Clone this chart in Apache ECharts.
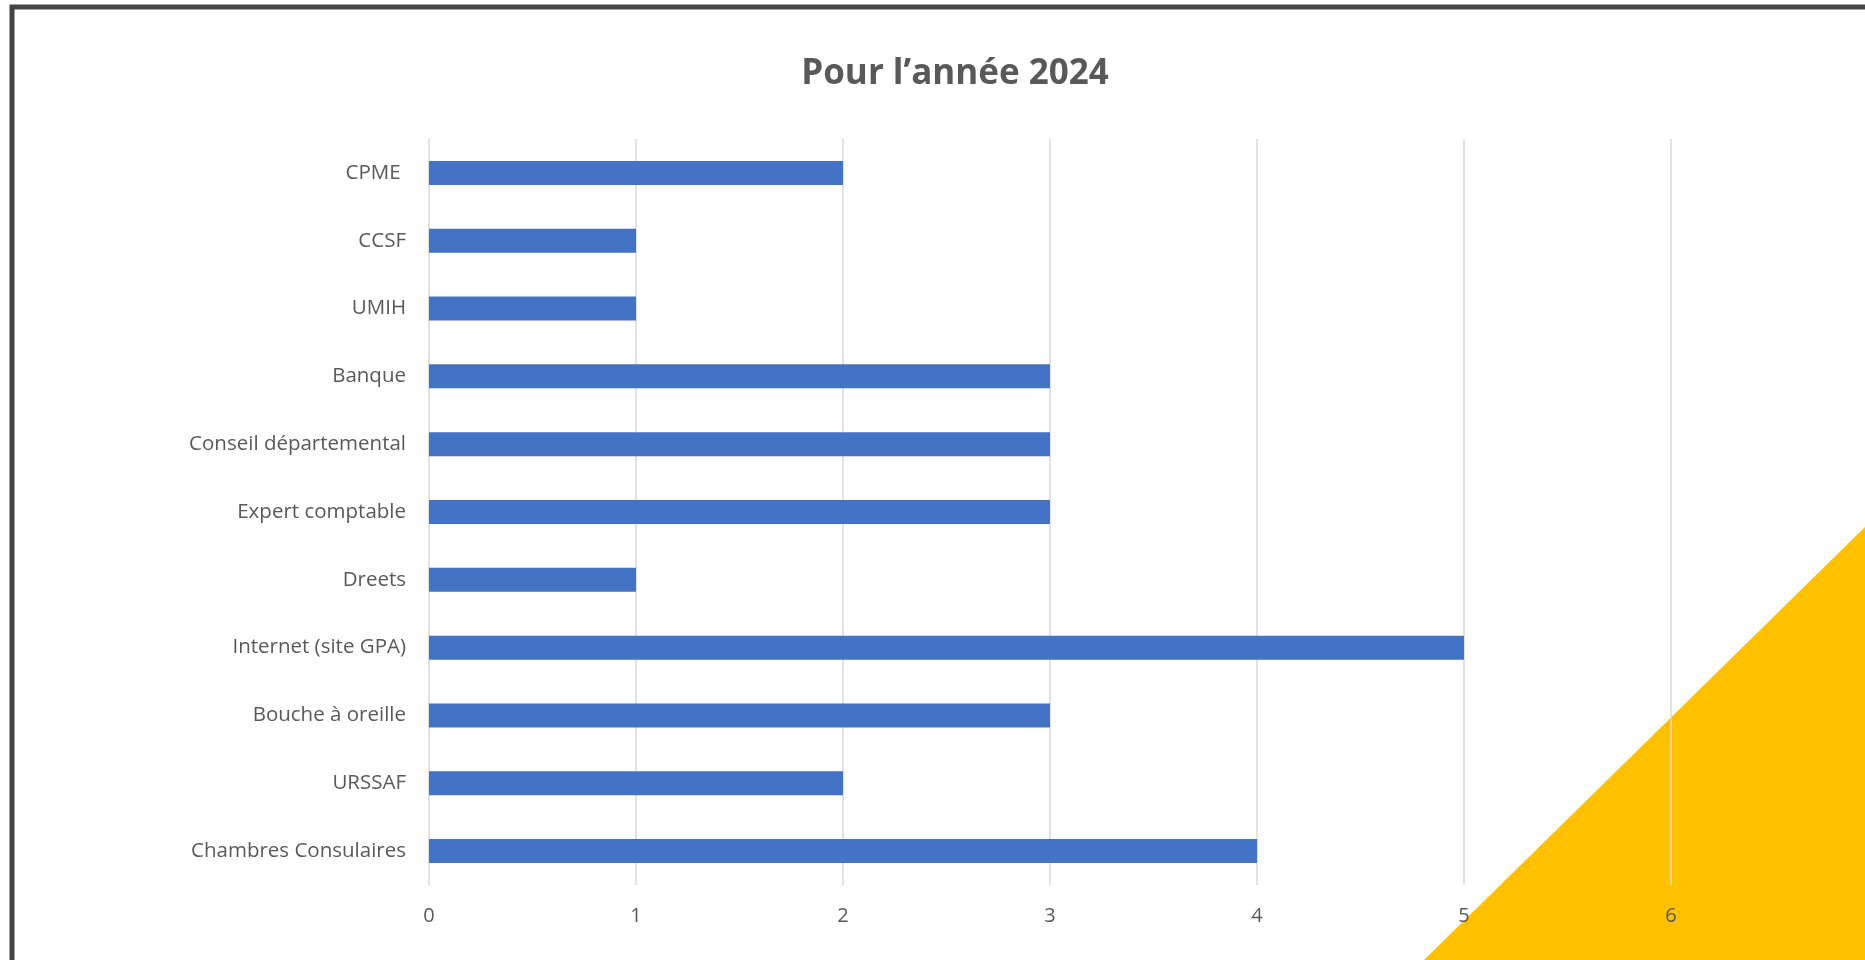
<!DOCTYPE html>
<html>
<head>
<meta charset="utf-8">
<script src="https://cdn.jsdelivr.net/npm/echarts@6/dist/echarts.min.js"></script>
<style>
html,body{margin:0;padding:0;background:#fff;overflow:hidden;}
#chart{width:1865px;height:960px;}
</style>
</head>
<body>
<div id="chart"></div>
<script>
const titleText = "Pour l’année 2024";
const categories = ["CPME ", "CCSF", "UMIH", "Banque", "Conseil départemental", "Expert comptable", "Dreets", "Internet (site GPA)", "Bouche à oreille", "URSSAF", "Chambres Consulaires"];
const values = [2, 1, 1, 3, 3, 3, 1, 5, 3, 2, 4];
const xTicks = [0, 1, 2, 3, 4, 5, 6, 7];

const chart = echarts.init(document.getElementById('chart'));
chart.setOption({
  animation: false,
  backgroundColor: '#ffffff',
  title: {
    text: titleText,
    left: 950,
    textAlign: 'center',
    top: 52,
    textStyle: { fontFamily: 'Open Sans', fontWeight: 'bold', fontSize: 35, color: '#595959' }
  },
  graphic: [
    {
      type: 'polygon', z: -10, silent: true,
      shape: { points: [[1424, 960], [1865, 527], [1865, 960]] },
      style: { fill: '#FFC000' }
    },
    {
      type: 'rect', z: 100, silent: true,
      shape: { x: 12, y: 7, width: 2000, height: 2000 },
      style: { fill: 'none', stroke: '#444444', lineWidth: 5 }
    }
  ],
  grid: { left: 429, top: 139, right: -13, bottom: 75, containLabel: false, outerBoundsMode: 'none' },
  xAxis: {
    type: 'value', min: xTicks[0], max: xTicks[xTicks.length - 1], interval: 1,
    axisLine: { show: false }, axisTick: { show: false },
    splitLine: { show: true, lineStyle: { color: '#D9D9D9', width: 1.5 } },
    axisLabel: { show: true, margin: 21, fontFamily: 'Open Sans', fontSize: 20, color: '#595959' }
  },
  yAxis: {
    type: 'category', data: categories, inverse: true,
    axisLine: { show: false }, axisTick: { show: false },
    axisLabel: { margin: 23, fontFamily: 'Open Sans', fontSize: 20.5, color: '#595959' }
  },
  series: [{
    type: 'bar', data: values, barWidth: 24,
    itemStyle: { color: '#4472C4' }
  }]
});
</script>
</body>
</html>
